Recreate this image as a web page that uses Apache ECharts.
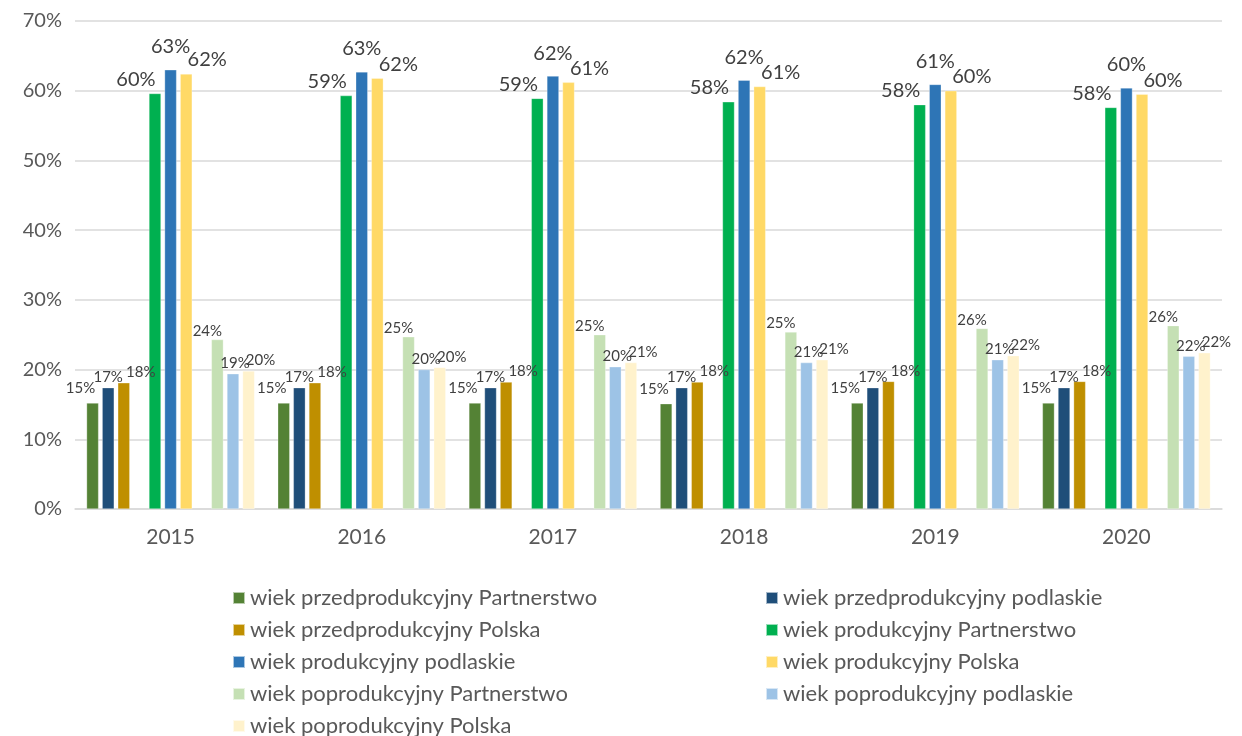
<!DOCTYPE html>
<html><head><meta charset="utf-8">
<script src="https://cdn.jsdelivr.net/npm/echarts@6/dist/echarts.min.js"></script>
<style>html,body{margin:0;padding:0;background:#fff}#c{width:1242px;height:736px}</style>
</head><body><div id="c"></div>
<script>
const years = ['2015','2016','2017','2018','2019','2020'];
const yTicks = [0,10,20,30,40,50,60,70];
const przedPartnerstwo = [15.2, 15.2, 15.2, 15.1, 15.2, 15.2];
const przedPodlaskie   = [17.4, 17.4, 17.4, 17.4, 17.4, 17.4];
const przedPolska      = [18.1, 18.1, 18.2, 18.2, 18.3, 18.3];
const prodPartnerstwo  = [59.6, 59.3, 58.9, 58.4, 58.0, 57.6];
const prodPodlaskie    = [63.0, 62.7, 62.1, 61.5, 60.9, 60.4];
const prodPolska       = [62.4, 61.8, 61.2, 60.6, 60.0, 59.5];
const poPartnerstwo    = [24.3, 24.7, 25.0, 25.4, 25.9, 26.3];
const poPodlaskie      = [19.4, 20.0, 20.4, 21.0, 21.4, 21.9];
const poPolska         = [19.8, 20.3, 21.0, 21.4, 22.0, 22.4];

const names = [
 'wiek przedprodukcyjny Partnerstwo','wiek przedprodukcyjny podlaskie','wiek przedprodukcyjny Polska',
 'wiek produkcyjny Partnerstwo','wiek produkcyjny podlaskie','wiek produkcyjny Polska',
 'wiek poprodukcyjny Partnerstwo','wiek poprodukcyjny podlaskie','wiek poprodukcyjny Polska'];
const colors = ['#548235','#1F4E79','#BF8F00','#00B050','#2E75B6','#FFD966','#C5E0B4','#9DC3E6','#FFF2CC'];
const datasets = [przedPartnerstwo,przedPodlaskie,przedPolska,prodPartnerstwo,prodPodlaskie,prodPolska,poPartnerstwo,poPodlaskie,poPolska];
const labelOffsets = [[-12,-4],[0,0],[17,0],[-19,0],[0,-9],[21,0],[-10,2],[2,0],[12,0]];

const series = [];
datasets.forEach((d,i)=>{
  if (i===3 || i===6) series.push({type:'bar', name:'', data:[], barWidth:12, barGap:'30%'});
  const big = (i>=3 && i<=5);
  series.push({
    type:'bar', name:names[i], data:d, barWidth:12, barGap:'30%',
    itemStyle:{color:colors[i], borderColor:'rgba(255,255,255,0.6)', borderWidth:0.5},
    label:{show:true, position:'top', distance:big?4:3, offset:labelOffsets[i], color:'#404040',
      fontFamily:'Lato', fontSize:big?20:15,
      formatter:p=>Math.round(p.value)+'%'}
  });
});

const chart = echarts.init(document.getElementById('c'));
chart.setOption({
  animation:false,
  color:colors,
  grid:{left:75, right:20, top:21, bottom:227, containLabel:false},
  xAxis:{type:'category', data:years,
    axisLine:{lineStyle:{color:'#d9d9d9', width:1.5}}, axisTick:{show:false},
    axisLabel:{color:'#595959', fontFamily:'Lato', fontSize:21, margin:18}},
  yAxis:{type:'value', min:yTicks[0], max:yTicks[yTicks.length-1], interval:10,
    axisLine:{show:false}, axisTick:{show:false},
    splitLine:{lineStyle:{color:'#d9d9d9', width:1.5}},
    axisLabel:{color:'#595959', fontFamily:'Lato', fontSize:20, margin:13, formatter:'{value}%'}},
  legend:{data:names, left:227, top:582, width:1080, itemWidth:12, itemHeight:12, itemGap:10,
    icon:'rect', selectedMode:false,
    textStyle:{color:'#595959', fontFamily:'Lato', fontSize:22, width:505, lineHeight:22}},
  series:series
});
</script></body></html>
